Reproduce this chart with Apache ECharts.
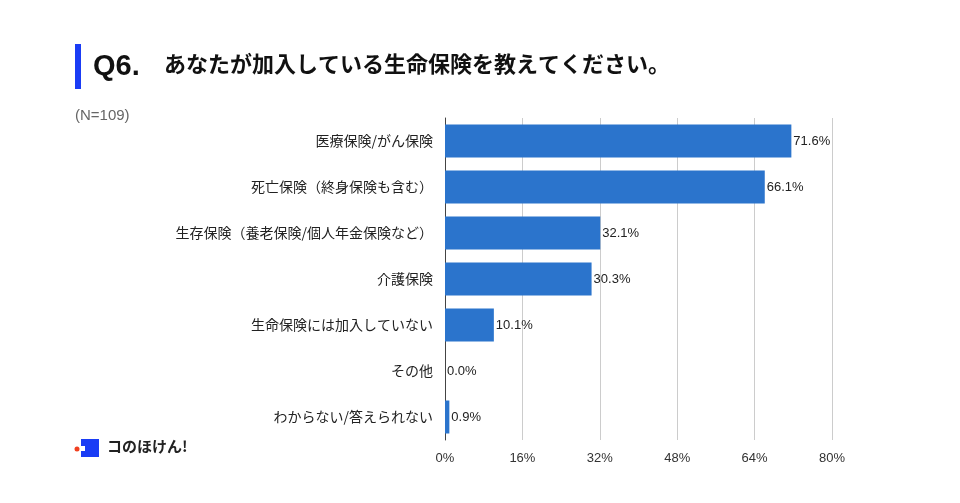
<!DOCTYPE html>
<html><head><meta charset="utf-8">
<script src="https://cdn.jsdelivr.net/npm/echarts@6/dist/echarts.min.js"></script>
<style>html,body{margin:0;background:#fff}#c{width:960px;height:503px}</style>
</head><body><div id="c"></div>
<script>
const categories = ['医療保険/がん保険', '死亡保険（終身保険も含む）', '生存保険（養老保険/個人年金保険など）', '介護保険', '生命保険には加入していない', 'その他', 'わからない/答えられない'];
const values = [71.6, 66.1, 32.1, 30.3, 10.1, 0.0, 0.9];
const ticks = [0, 16, 32, 48, 64, 80];

var chart = echarts.init(document.getElementById('c'));
var font = '"Noto Sans CJK JP", sans-serif';
chart.setOption({
    animation: false,
    textStyle: { fontFamily: font },
    graphic: [
        { type: 'rect', shape: { x: 75, y: 44, width: 6, height: 45 }, style: { fill: '#1a3cf5' } },
        { type: 'text', left: 93, top: 52, style: { text: 'Q6.', font: 'bold 29px "Liberation Sans", Arial', fill: '#111' } },
        { type: 'text', left: 164, top: 53, style: { text: 'あなたが加入している生命保険を教えてください。', font: 'bold 22px ' + font, fill: '#111' } },
        { type: 'text', left: 75, top: 108, style: { text: '(N=109)', font: '15px "Liberation Sans", Arial', fill: '#666' } },
        { type: 'circle', shape: { cx: 77, cy: 449, r: 2.5 }, style: { fill: '#f04020' } },
        { type: 'rect', shape: { x: 81, y: 439, width: 18, height: 18 }, style: { fill: '#1a3cf5' } },
        { type: 'rect', shape: { x: 81, y: 446, width: 4, height: 5 }, style: { fill: '#fff' } },
        { type: 'text', left: 107, top: 439, style: { text: 'コのほけん!', font: 'bold 15px ' + font, fill: '#222' } }
    ],
    grid: { left: 445, right: 128, top: 118, bottom: 63 },
    xAxis: {
        type: 'value', min: 0, max: ticks[ticks.length - 1], interval: ticks[1] - ticks[0],
        axisLabel: { formatter: '{value}%', color: '#333', fontSize: 13, margin: 12, fontFamily: '"Liberation Sans", Arial' },
        splitLine: { lineStyle: { color: '#ccc' } },
        axisLine: { show: false }
    },
    yAxis: {
        type: 'category', data: categories, inverse: true,
        axisTick: { show: false },
        axisLine: { lineStyle: { color: '#444' } },
        axisLabel: { color: '#222', fontSize: 14, margin: 12 }
    },
    series: [{
        type: 'bar', data: values, barWidth: 33,
        itemStyle: { color: '#2b74cc' },
        label: { show: true, position: 'right', distance: 2, formatter: p => p.value.toFixed(1) + '%', color: '#222', fontSize: 13, fontFamily: '"Liberation Sans", Arial' }
    }]
});
</script></body></html>
